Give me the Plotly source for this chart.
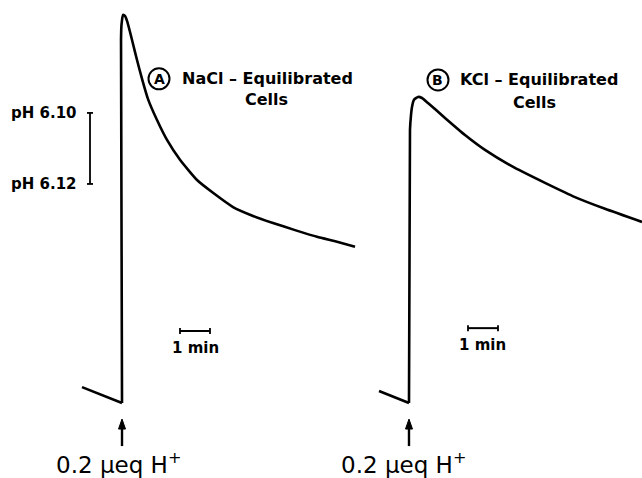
import plotly.graph_objects as go

# ---- data (time in min relative to H+ addition, pH) ----
t_nacl = [-1.333, 0.0, -0.033, -0.017, 0.033, 0.1, 0.167, 0.267, 0.367, 0.5, 0.667,
          0.867, 1.167, 1.5, 1.933, 2.5, 3.033, 3.7, 4.367, 5.033, 5.767, 6.5, 7.167, 7.767]
ph_nacl = [6.1772, 6.1817, 6.0794, 6.0752, 6.0724, 6.0727, 6.0741, 6.0772, 6.0806, 6.0851, 6.0904,
           6.0961, 6.1020, 6.1076, 6.1132, 6.1189, 6.1225, 6.1265, 6.1290, 6.1310, 6.1330, 6.1349, 6.1363, 6.1377]

t_kcl = [-1.0, 0.0, 0.033, 0.067, 0.1, 0.167, 0.3, 0.433, 0.633, 1.2, 1.867, 2.533,
         3.533, 4.533, 5.533, 6.533, 7.767]
ph_kcl = [6.1783, 6.1817, 6.1048, 6.1006, 6.0983, 6.0963, 6.0955, 6.0958, 6.0972, 6.1014, 6.1062, 6.1104,
          6.1155, 6.1197, 6.1237, 6.1270, 6.1307]

ph_scale_labels = ["pH 6.10", "pH 6.12"]
ph_scale_values = [6.10, 6.12]
time_scale_label = "1 min"
panel_titles = ["NaCl \u2013 Equilibrated", "KCl \u2013 Equilibrated"]
panel_letters = ["A", "B"]
dose_label = "0.2 \u03bceq H<sup>+</sup>"

W, H = 642, 478
BOLD = "DejaVu Sans"
# pixel helpers for layout positioning only
PH_PER_PX = 0.02 / 71.0
MIN_PER_PX = 1 / 30.0

fig = go.Figure()
lin = dict(color="black", width=2.6)
spl = dict(color="black", width=2.6, shape="spline", smoothing=0.5)
for xs, ys, xa in [(t_nacl, ph_nacl, "x"), (t_kcl, ph_kcl, "x2")]:
    # pre-addition baseline (straight) and response (smooth), meeting at the addition point
    fig.add_trace(go.Scatter(x=xs[:2], y=ys[:2], mode="lines", line=lin, xaxis=xa, yaxis="y",
                             showlegend=False, hoverinfo="skip"))
    fig.add_trace(go.Scatter(x=xs[1:], y=ys[1:], mode="lines", line=spl, xaxis=xa, yaxis="y",
                             showlegend=False, hoverinfo="skip"))

shapes = []
ann = []

# pH scale bar (panel A)
xb = -1.067
shapes.append(dict(type="line", xref="x", yref="y", x0=xb, x1=xb, y0=ph_scale_values[0], y1=ph_scale_values[1],
                   line=dict(color="black", width=1.8)))
for v, lab in zip(ph_scale_values, ph_scale_labels):
    shapes.append(dict(type="line", xref="x", yref="y", x0=xb - 0.1, x1=xb + 0.1, y0=v, y1=v,
                       line=dict(color="black", width=1.8)))
    ann.append(dict(xref="x", yref="y", x=xb - 0.38, y=v, text="<b>" + lab + "</b>", showarrow=False,
                    xanchor="right", yanchor="middle", font=dict(family=BOLD, size=15, color="black")))

# time scale bars
for xr, x0, yv in [("x", 1.933, 6.1614), ("x2", 1.967, 6.1606)]:
    x1 = x0 + 1.0
    shapes.append(dict(type="line", xref=xr, yref="y", x0=x0, x1=x1, y0=yv, y1=yv,
                       line=dict(color="black", width=2)))
    for xe in (x0, x1):
        shapes.append(dict(type="line", xref=xr, yref="y", x0=xe, x1=xe, y0=yv - 3 * PH_PER_PX,
                           y1=yv + 3 * PH_PER_PX, line=dict(color="black", width=1.8)))
    ann.append(dict(xref=xr, yref="y", x=(x0 + x1) / 2, y=yv + 17 * PH_PER_PX,
                    text="<b>" + time_scale_label + "</b>", showarrow=False,
                    xanchor="center", yanchor="middle", font=dict(family=BOLD, size=15, color="black")))

# panel titles with circled letters
for xr, cx, cy, tx, cellx, celly, letter, title in [
    ("x", 1.233, 6.0904, 1.933, 4.8, 6.0963, panel_letters[0], panel_titles[0]),
    ("x2", 0.967, 6.0907, 1.633, 4.2, 6.0972, panel_letters[1], panel_titles[1]),
]:
    r = 10.5
    shapes.append(dict(type="circle", xref=xr, yref="y", x0=cx - r * MIN_PER_PX, x1=cx + r * MIN_PER_PX,
                       y0=cy - r * PH_PER_PX, y1=cy + r * PH_PER_PX, line=dict(color="black", width=2)))
    ann.append(dict(xref=xr, yref="y", x=cx, y=cy, text="<b>" + letter + "</b>", showarrow=False,
                    xanchor="center", yanchor="middle", font=dict(family=BOLD, size=14, color="black")))
    ann.append(dict(xref=xr, yref="y", x=tx, y=cy, text="<b>" + title + "</b>", showarrow=False,
                    xanchor="left", yanchor="middle", font=dict(family=BOLD, size=16, color="black")))
    ann.append(dict(xref=xr, yref="y", x=cellx, y=celly, text="<b>Cells</b>", showarrow=False,
                    xanchor="center", yanchor="middle", font=dict(family=BOLD, size=16, color="black")))

# addition arrows (shaft + head) and labels
tip, tail = 6.1862, 6.1862 + 27 * PH_PER_PX
for xr, lx in [("x", -0.133), ("x2", -0.167)]:
    shapes.append(dict(type="line", xref=xr, yref="y", x0=0, x1=0, y0=tail, y1=tip + 8 * PH_PER_PX,
                       line=dict(color="black", width=2.4)))
    hw = 3.5 * MIN_PER_PX
    hy = tip + 10 * PH_PER_PX
    shapes.append(dict(type="path", xref=xr, yref="y",
                       path=f"M {-hw} {hy} L 0 {tip} L {hw} {hy} Z",
                       fillcolor="black", line=dict(color="black", width=1)))
    ann.append(dict(xref=xr, yref="y", x=lx, y=6.1985, text=dose_label, showarrow=False,
                    xanchor="center", yanchor="middle", font=dict(family="DejaVu Sans", size=23, color="black")))

fig.update_layout(
    width=W, height=H, margin=dict(l=0, r=0, t=0, b=0),
    paper_bgcolor="white", plot_bgcolor="white",
    xaxis=dict(domain=[0, 360 / W], range=[-4.067, 7.933], visible=False),
    xaxis2=dict(domain=[360 / W, 1], range=[-1.633, 7.767], visible=False, anchor="y"),
    yaxis=dict(domain=[0, 1], range=[6.2028, 6.0682], visible=False),
    shapes=shapes, annotations=ann,
)

fig.write_html("out.html", config={"displayModeBar": False},
               post_script="document.body.style.margin='0px';document.body.style.overflow='hidden';")
